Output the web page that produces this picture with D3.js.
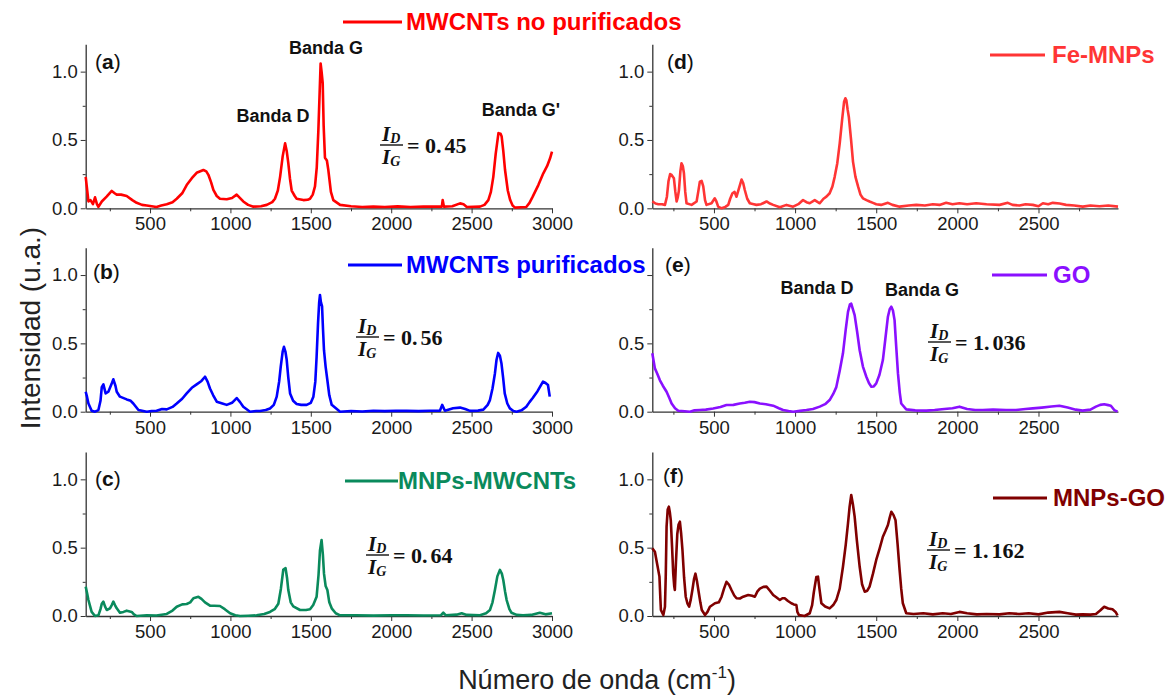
<!DOCTYPE html>
<meta charset="utf-8">
<script src="https://d3js.org/d3.v7.min.js"></script>
<style>
  body { margin: 0; background: #fff; }
</style>
<svg id="chart" width="1170" height="695" font-family="Liberation Sans, Arial, sans-serif"></svg>
<script>

// Spectra: [wavenumber cm-1, intensity u.a.]
var noPurificados = [[100,0.23],[117,0.05],[130,0.06],[145,0.03],[158,0.08],[170,0.03],[179,0.01],[200,0.05],[230,0.085],[262,0.127],[280,0.11],[293,0.1],[320,0.1],[355,0.09],[390,0.06],[417,0.04],[450,0.025],[480,0.02],[510,0.015],[540,0.01],[570,0.02],[604,0.03],[640,0.045],[666,0.07],[700,0.11],[728,0.17],[760,0.22],[790,0.26],[832,0.28],[850,0.27],[863,0.245],[880,0.19],[894,0.134],[915,0.09],[935,0.07],[977,0.066],[1010,0.075],[1039,0.1],[1060,0.075],[1080,0.05],[1110,0.025],[1143,0.012],[1190,0.015],[1226,0.025],[1260,0.045],[1277,0.07],[1295,0.13],[1309,0.23],[1325,0.38],[1340,0.475],[1350,0.42],[1360,0.33],[1370,0.22],[1381,0.13],[1400,0.09],[1412,0.07],[1454,0.06],[1480,0.062],[1495,0.07],[1512,0.1],[1526,0.16],[1537,0.3],[1547,0.57],[1555,0.85],[1561,1.06],[1567,1.0],[1574,0.915],[1580,0.6],[1588,0.37],[1600,0.35],[1609,0.28],[1625,0.12],[1640,0.06],[1682,0.025],[1750,0.015],[1820,0.01],[1889,0.012],[1960,0.01],[2040,0.014],[2120,0.01],[2200,0.012],[2303,0.012],[2315,0.012],[2320,0.06],[2328,0.012],[2380,0.015],[2428,0.036],[2450,0.03],[2470,0.01],[2552,0.012],[2580,0.025],[2604,0.06],[2620,0.12],[2635,0.23],[2650,0.4],[2667,0.55],[2680,0.545],[2687,0.525],[2697,0.42],[2708,0.28],[2725,0.13],[2740,0.06],[2755,0.02],[2770,0.005],[2810,0.008],[2840,0.01],[2860,0.04],[2880,0.085],[2915,0.17],[2946,0.256],[2970,0.31],[2988,0.366],[3000,0.415]];

var purificados = [[100,0.146],[108,0.11],[117,0.06],[137,0.007],[158,0],[179,0.012],[192,0.08],[200,0.18],[210,0.2],[224,0.134],[241,0.146],[260,0.2],[272,0.237],[285,0.19],[293,0.146],[313,0.11],[355,0.09],[380,0.08],[396,0.06],[428,0.012],[480,0],[510,0.005],[541,0.007],[575,0.02],[604,0.017],[640,0.035],[666,0.06],[700,0.095],[728,0.134],[760,0.175],[790,0.2],[820,0.225],[842,0.256],[858,0.22],[873,0.17],[893,0.12],[915,0.073],[950,0.06],[977,0.05],[1010,0.065],[1039,0.1],[1060,0.07],[1080,0.036],[1122,0],[1160,0.005],[1184,0.005],[1220,0.012],[1246,0.024],[1270,0.05],[1288,0.11],[1303,0.22],[1313,0.33],[1325,0.44],[1333,0.475],[1342,0.44],[1350,0.38],[1360,0.25],[1371,0.134],[1390,0.08],[1412,0.056],[1440,0.05],[1474,0.05],[1500,0.065],[1516,0.11],[1528,0.22],[1536,0.4],[1545,0.65],[1552,0.8],[1557,0.854],[1563,0.8],[1570,0.77],[1576,0.6],[1582,0.45],[1592,0.33],[1603,0.23],[1615,0.12],[1630,0.05],[1682,0],[1750,0.005],[1820,0.002],[1889,0.007],[1960,0.004],[2030,0.007],[2096,0.006],[2170,0.004],[2240,0.007],[2303,0.007],[2317,0.05],[2334,0.007],[2385,0.025],[2428,0.03],[2460,0.02],[2490,0.006],[2540,0.008],[2573,0.015],[2600,0.05],[2614,0.085],[2630,0.17],[2645,0.28],[2655,0.38],[2665,0.43],[2676,0.41],[2686,0.35],[2696,0.25],[2706,0.134],[2722,0.06],[2738,0.024],[2760,0.005],[2780,0],[2810,0.01],[2840,0.036],[2860,0.07],[2880,0.1],[2910,0.15],[2944,0.22],[2960,0.21],[2975,0.195],[2986,0.11]];

var mnpsMwcnts = [[100,0.215],[108,0.17],[117,0.117],[137,0.03],[158,0],[179,0.005],[192,0.05],[200,0.09],[210,0.105],[220,0.07],[231,0.044],[251,0.056],[262,0.08],[272,0.105],[282,0.08],[293,0.056],[313,0.024],[335,0.03],[355,0.039],[386,0.03],[400,0.012],[417,0],[480,0.005],[540,0.004],[604,0.015],[640,0.04],[666,0.068],[700,0.085],[728,0.088],[750,0.1],[770,0.13],[801,0.14],[820,0.125],[842,0.1],[873,0.076],[900,0.075],[935,0.073],[965,0.05],[998,0.02],[1030,0.005],[1060,0],[1110,0.002],[1163,0.005],[1210,0.015],[1246,0.03],[1275,0.05],[1298,0.09],[1314,0.2],[1329,0.34],[1343,0.35],[1352,0.28],[1360,0.19],[1375,0.1],[1391,0.07],[1433,0.044],[1470,0.044],[1495,0.049],[1515,0.08],[1536,0.14],[1548,0.3],[1557,0.48],[1567,0.556],[1575,0.45],[1582,0.31],[1592,0.22],[1603,0.19],[1615,0.1],[1630,0.056],[1655,0.02],[1682,0.005],[1780,0.005],[1890,0.003],[2000,0.006],[2096,0.005],[2200,0.004],[2310,0.006],[2324,0.024],[2340,0.005],[2407,0.01],[2438,0.02],[2470,0.008],[2552,0.006],[2590,0.02],[2614,0.044],[2630,0.1],[2645,0.19],[2660,0.29],[2676,0.337],[2688,0.31],[2697,0.263],[2708,0.18],[2718,0.117],[2735,0.05],[2748,0.024],[2780,0.008],[2820,0.005],[2870,0.008],[2924,0.024],[2960,0.012],[3000,0.02]];

var feMnps = [[120,0.05],[140,0.035],[157,0.03],[180,0.03],[198,0.025],[210,0.085],[220,0.2],[230,0.25],[239,0.244],[253,0.22],[262,0.12],[270,0.05],[277,0.08],[284,0.13],[293,0.27],[300,0.33],[308,0.31],[315,0.256],[323,0.12],[331,0.037],[362,0.025],[393,0.05],[403,0.12],[413,0.195],[424,0.2],[434,0.16],[445,0.06],[454,0.025],[485,0.037],[505,0.073],[515,0.05],[526,0.012],[547,0],[570,0.01],[588,0.025],[600,0.07],[614,0.11],[627,0.12],[639,0.085],[650,0.13],[670,0.21],[680,0.185],[690,0.134],[705,0.07],[721,0.037],[745,0.03],[762,0.025],[790,0.03],[824,0.05],[845,0.035],[865,0.025],[906,0.007],[947,0.025],[988,0.012],[1020,0.03],[1049,0.06],[1070,0.045],[1090,0.037],[1121,0.06],[1140,0.045],[1152,0.037],[1175,0.07],[1193,0.085],[1213,0.11],[1230,0.16],[1244,0.23],[1260,0.33],[1275,0.475],[1290,0.65],[1302,0.78],[1310,0.805],[1316,0.79],[1324,0.72],[1331,0.67],[1345,0.5],[1357,0.34],[1372,0.23],[1388,0.16],[1403,0.1],[1418,0.073],[1440,0.06],[1459,0.05],[1480,0.04],[1500,0.03],[1530,0.025],[1572,0.04],[1600,0.025],[1644,0.012],[1700,0.02],[1747,0.025],[1800,0.02],[1849,0.03],[1890,0.025],[1931,0.04],[1970,0.03],[2013,0.037],[2060,0.03],[2116,0.037],[2180,0.03],[2260,0.025],[2311,0.04],[2340,0.025],[2383,0.02],[2420,0.03],[2465,0.025],[2500,0.015],[2527,0.037],[2560,0.03],[2588,0.04],[2630,0.035],[2670,0.025],[2720,0.02],[2773,0.012],[2820,0.02],[2876,0.015],[2930,0.02],[2990,0.012]];

var go = [[120,0.427],[136,0.317],[150,0.28],[167,0.23],[185,0.19],[208,0.146],[225,0.1],[239,0.06],[260,0.025],[280,0.007],[320,0.003],[352,0],[380,0.01],[413,0.012],[450,0.015],[495,0.024],[540,0.035],[577,0.049],[620,0.05],[659,0.06],[690,0.065],[721,0.073],[750,0.07],[783,0.06],[820,0.055],[865,0.044],[900,0.025],[926,0.012],[960,0.005],[988,0],[1030,0.006],[1070,0.012],[1110,0.02],[1152,0.037],[1185,0.055],[1213,0.085],[1235,0.13],[1254,0.18],[1275,0.3],[1295,0.427],[1312,0.6],[1326,0.73],[1338,0.785],[1346,0.79],[1356,0.75],[1367,0.707],[1383,0.58],[1398,0.45],[1418,0.33],[1439,0.256],[1455,0.21],[1470,0.183],[1485,0.185],[1500,0.207],[1520,0.27],[1541,0.378],[1556,0.53],[1572,0.695],[1583,0.75],[1593,0.768],[1603,0.74],[1613,0.67],[1623,0.48],[1634,0.28],[1645,0.14],[1654,0.06],[1685,0.017],[1740,0.01],[1808,0.008],[1860,0.012],[1920,0.02],[1970,0.025],[2013,0.037],[2060,0.02],[2110,0.012],[2157,0.012],[2220,0.015],[2300,0.012],[2362,0.012],[2420,0.02],[2465,0.024],[2520,0.03],[2580,0.038],[2629,0.044],[2680,0.03],[2730,0.015],[2772,0.008],[2820,0.015],[2854,0.037],[2880,0.05],[2905,0.054],[2930,0.048],[2946,0.044],[2967,0.012],[2987,0]];

var mnpsGo = [[120,0.495],[136,0.47],[151,0.373],[164,0.288],[170,0.12],[173,0.044],[188,0.007],[198,0.068],[203,0.3],[208,0.654],[215,0.78],[222,0.8],[228,0.76],[234,0.7],[242,0.5],[249,0.31],[255,0.22],[259,0.19],[266,0.4],[274,0.6],[282,0.67],[290,0.69],[298,0.6],[306,0.48],[316,0.28],[326,0.141],[337,0.09],[347,0.068],[357,0.12],[367,0.19],[377,0.27],[386,0.31],[396,0.25],[407,0.166],[416,0.1],[425,0.044],[445,0.007],[460,0.03],[475,0.068],[506,0.093],[530,0.1],[547,0.141],[562,0.2],[577,0.25],[592,0.23],[608,0.19],[625,0.15],[639,0.13],[660,0.128],[680,0.141],[711,0.154],[735,0.148],[752,0.141],[768,0.18],[783,0.2],[805,0.213],[824,0.215],[845,0.185],[865,0.154],[886,0.135],[906,0.117],[922,0.13],[936,0.13],[956,0.11],[977,0.093],[992,0.085],[1008,0.08],[1014,0.03],[1024,0.007],[1059,0],[1090,0.02],[1105,0.08],[1115,0.17],[1121,0.215],[1131,0.285],[1141,0.288],[1150,0.2],[1162,0.093],[1185,0.07],[1213,0.056],[1235,0.08],[1254,0.117],[1275,0.2],[1295,0.36],[1312,0.52],[1326,0.678],[1336,0.8],[1346,0.885],[1356,0.82],[1367,0.727],[1380,0.56],[1398,0.36],[1413,0.23],[1429,0.178],[1445,0.185],[1459,0.215],[1480,0.31],[1500,0.41],[1520,0.49],[1541,0.58],[1556,0.62],[1572,0.666],[1583,0.72],[1593,0.763],[1606,0.74],[1619,0.7],[1632,0.52],[1644,0.337],[1654,0.2],[1664,0.093],[1685,0.02],[1730,0.015],[1790,0.02],[1849,0.012],[1910,0.02],[1960,0.015],[2013,0.03],[2060,0.02],[2120,0.012],[2180,0.015],[2259,0.012],[2320,0.02],[2380,0.015],[2440,0.02],[2500,0.012],[2560,0.025],[2629,0.03],[2680,0.02],[2730,0.01],[2772,0.012],[2820,0.01],[2854,0.015],[2880,0.04],[2905,0.068],[2930,0.055],[2956,0.049],[2975,0.03],[2987,0.005]];

// axis ticks
var xTicksLeft = [500, 1000, 1500, 2000, 2500, 3000];
var xTicksRight = [500, 1000, 1500, 2000, 2500];
var xMinor = [250, 750, 1250, 1750, 2250, 2750];
var yTicks = [0, 0.5, 1.0];
var yMinor = [0.25, 0.75];

// panel ratios I_D / I_G
var ratios = {a: "0.45", b: "0.56", c: "0.64", e: "1.036", f: "1.162"};

var svg = d3.select("#chart");

var cols = [
  {domain: [100, 3000], range: [85.7, 552], ticks: xTicksLeft},
  {domain: [120, 2990], range: [652.3, 1118], ticks: xTicksRight}
];
var rows = [208.3, 411.7, 616];
var plotH = 164;

var panels = [
  {key: "a", data: noPurificados, color: "#ff0000", col: 0, row: 0, name: "MWCNTs no purificados"},
  {key: "b", data: purificados, color: "#0000ff", col: 0, row: 1, name: "MWCNTs purificados"},
  {key: "c", data: mnpsMwcnts, color: "#0a8a5c", col: 0, row: 2, name: "MNPs-MWCNTs"},
  {key: "d", data: feMnps, color: "#ff3535", col: 1, row: 0, name: "Fe-MNPs"},
  {key: "e", data: go, color: "#8a10ff", col: 1, row: 1, name: "GO"},
  {key: "f", data: mnpsGo, color: "#800000", col: 1, row: 2, name: "MNPs-GO"}
];

// legend placement (line start, line end, text x, centre y)
var legendPos = {
  a: [343, 402, 406, 22],
  b: [348, 402, 406, 265],
  c: [345, 398, 398, 481],
  d: [990, 1045, 1052, 55],
  e: [992, 1047, 1053, 275],
  f: [993, 1047, 1053, 498]
};
var labelPos = {a: [95, 62], b: [93, 272], c: [95, 479], d: [667, 62], e: [665, 265], f: [663, 476]};
var ratioPos = {a: [380, 145], b: [356, 337], c: [366, 555], e: [928, 342], f: [927, 550]};

var axisColor = "#333";
var serif = "'Liberation Serif', 'DejaVu Serif', serif";

panels.forEach(function (p) {
  var c = cols[p.col];
  var y0 = rows[p.row];
  var x = d3.scaleLinear().domain(c.domain).range(c.range);
  var y = d3.scaleLinear().domain([0, 1.2]).range([y0, y0 - plotH]);
  var g = svg.append("g");

  // in (e) the 1.0 label sits under the (b) legend, so it is not printed
  var yFmt = function (v) {
    return (p.key === "e" && v === 1.0) ? "" : d3.format(".1f")(v);
  };

  // minor ticks
  var xa = g.append("g").attr("transform", "translate(0," + y0 + ")")
    .call(d3.axisBottom(x).tickValues(xMinor.filter(function (v) { return v > c.domain[0] && v < c.domain[1]; }))
      .tickSize(3).tickFormat(""));
  var ya = g.append("g").attr("transform", "translate(" + c.range[0] + ",0)")
    .call(d3.axisLeft(y).tickValues(yMinor).tickSize(3).tickFormat(""));

  // major ticks
  var xb = g.append("g").attr("transform", "translate(0," + y0 + ")")
    .call(d3.axisBottom(x).tickValues(c.ticks).tickSize(5).tickSizeOuter(0).tickPadding(4)
      .tickFormat(d3.format("d")));
  var yb = g.append("g").attr("transform", "translate(" + c.range[0] + ",0)")
    .call(d3.axisLeft(y).tickValues(yTicks).tickSize(5).tickSizeOuter(0).tickPadding(3)
      .tickFormat(yFmt));

  [xa, ya].forEach(function (a) { a.select(".domain").remove(); });
  [xa, ya, xb, yb].forEach(function (a) {
    a.selectAll("line").attr("stroke", axisColor).attr("stroke-width", 1);
    a.selectAll(".domain").attr("stroke", axisColor).attr("stroke-width", 1.3);
    a.selectAll("text").attr("font-size", 18.5).attr("fill", "#1a1a1a")
      .attr("font-family", "Liberation Sans, Arial, sans-serif");
  });

  // spectrum
  g.append("path")
    .datum(p.data)
    .attr("fill", "none")
    .attr("stroke", p.color)
    .attr("stroke-width", 2.6)
    .attr("stroke-linejoin", "round")
    .attr("d", d3.line().x(function (d) { return x(d[0]); }).y(function (d) { return y(d[1]); }));

  // panel letter
  var lp = labelPos[p.key];
  var t = svg.append("text").attr("x", lp[0]).attr("y", lp[1]).attr("dy", "0.35em")
    .attr("font-size", 21).attr("fill", "#111");
  t.append("tspan").text("(");
  t.append("tspan").attr("font-weight", "bold").text(p.key);
  t.append("tspan").text(")");

  // I_D / I_G
  if (ratios[p.key]) {
    var rp = ratioPos[p.key];
    var rg = svg.append("g").attr("transform", "translate(" + rp[0] + "," + rp[1] + ")")
      .style("font-family", serif).style("font-weight", "bold").attr("fill", "#111");
    var num = rg.append("text").attr("x", 2).attr("y", -4).attr("font-size", 21).style("font-style", "italic");
    num.append("tspan").text("I");
    num.append("tspan").attr("font-size", 14).attr("dy", 2).text("D");
    rg.append("line").attr("x1", 0).attr("x2", 23).attr("y1", 0).attr("y2", 0)
      .attr("stroke", "#111").attr("stroke-width", 1.4);
    var den = rg.append("text").attr("x", 2).attr("y", 19).attr("font-size", 21).style("font-style", "italic");
    den.append("tspan").text("I");
    den.append("tspan").attr("font-size", 14).attr("dy", 2).text("G");
    var parts = ratios[p.key].split(".");
    var eq = rg.append("text").attr("x", 27).attr("y", 0).attr("dy", "0.35em").attr("font-size", 22);
    eq.append("tspan").text("= " + parts[0] + ".");
    eq.append("tspan").attr("dx", 3).text(parts[1]);
  }
});

// band annotations
var bands = [
  {text: "Banda G", x: 326, y: 48},
  {text: "Banda D", x: 273, y: 116},
  {text: "Banda G'", x: 521, y: 110},
  {text: "Banda D", x: 817, y: 288},
  {text: "Banda G", x: 922, y: 290}
];
svg.selectAll(".band").data(bands).enter().append("text")
  .attr("class", "band")
  .attr("x", function (d) { return d.x; })
  .attr("y", function (d) { return d.y; })
  .attr("dy", "0.35em")
  .attr("text-anchor", "middle")
  .attr("font-size", 18)
  .attr("font-weight", "bold")
  .attr("fill", "#111")
  .text(function (d) { return d.text; });

// legends
panels.forEach(function (p) {
  var lp = legendPos[p.key];
  var lg = svg.append("g");
  lg.append("line").attr("x1", lp[0]).attr("x2", lp[1]).attr("y1", lp[3]).attr("y2", lp[3])
    .attr("stroke", p.color).attr("stroke-width", 3.2);
  lg.append("text").attr("x", lp[2]).attr("y", lp[3]).attr("dy", "0.35em")
    .attr("font-size", 24).attr("font-weight", "bold").attr("fill", p.color).text(p.name);
});

// axis titles
svg.append("text")
  .attr("transform", "translate(30,328) rotate(-90)")
  .attr("text-anchor", "middle")
  .attr("dy", "0.35em")
  .attr("font-size", 28)
  .attr("fill", "#222")
  .text("Intensidad (u.a.)");

var xt = svg.append("text")
  .attr("x", 597).attr("y", 680)
  .attr("text-anchor", "middle")
  .attr("dy", "0.35em")
  .attr("font-size", 27)
  .attr("fill", "#222");
xt.append("tspan").text("Número de onda (cm");
xt.append("tspan").attr("font-size", 17).attr("dy", -11).text("-1");
xt.append("tspan").attr("dy", 11).text(")");

</script>
